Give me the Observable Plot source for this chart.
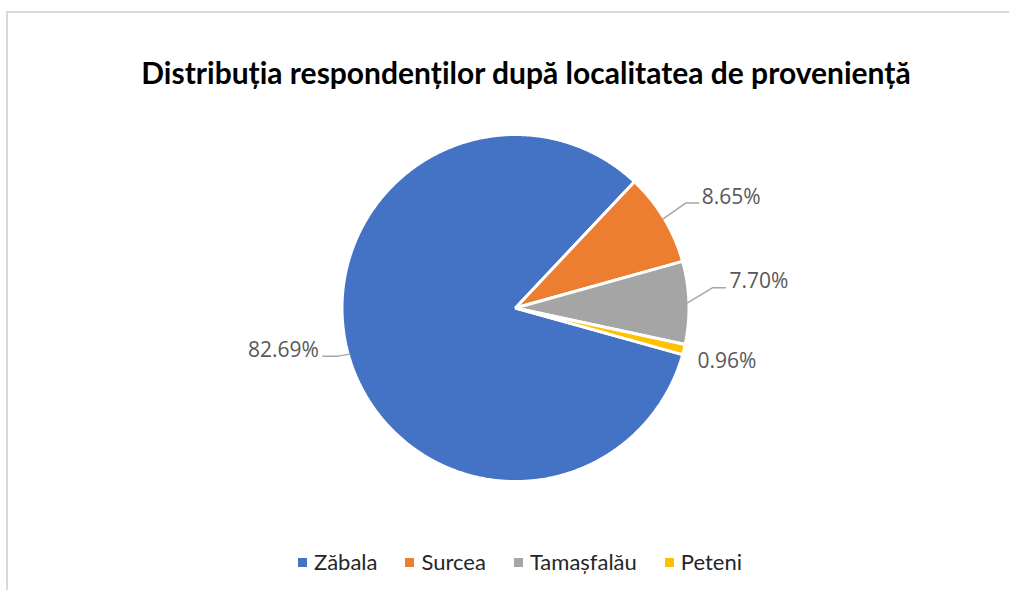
<!DOCTYPE html>
<html>
<head>
<meta charset="utf-8">
<script src="https://cdn.jsdelivr.net/npm/d3@7"></script>
<script src="https://cdn.jsdelivr.net/npm/@observablehq/plot@0.6"></script>
<style>
  html, body { margin: 0; padding: 0; background: #fff; }
  #wrap { position: relative; width: 1009px; height: 590px; overflow: hidden; background: #fff; }
  #frame { position: absolute; left: 6px; top: 11px; width: 1100px; height: 700px;
           border-left: 2px solid #d9d9d9; border-top: 2px solid #d9d9d9; box-sizing: border-box; }
  #chart { position: absolute; left: 0; top: 0; }
  #title { position: absolute; left: 0; top: 54px; width: 1052px; text-align: center;
           font-family: Lato, sans-serif; font-weight: bold; font-size: 30px; line-height: 36px; color: #000; }
  #legend { position: absolute; left: 0; top: 548px; width: 1040px; display: flex; justify-content: center;
            gap: 28px; font-family: Lato, sans-serif; font-size: 22px; line-height: 28px; color: #262626; }
  .item { display: flex; align-items: center; }
  .sw { width: 9px; height: 9px; margin-right: 7px; }
</style>
</head>
<body>
<div id="wrap">
  <div id="frame"></div>
  <div id="chart"></div>
  <div id="title"></div>
  <div id="legend"></div>
</div>
<script>
// ---- data ----
const title = "Distribuția respondenților după localitatea de proveniență";
const categories = ["Zăbala", "Surcea", "Tamașfalău", "Peteni"];
const values = [82.69, 8.65, 7.70, 0.96];
const labels = ["82.69%", "8.65%", "7.70%", "0.96%"];
const colors = ["#4472C4", "#ED7D31", "#A5A5A5", "#FFC000"];

// ---- layout ----
const W = 1009, H = 590, CX = 515, CY = 307.5, R = 173.5;
const START_DEG = 105.6;
// leader layout in pixels: elbow offset from edge, horizontal run, text gap, text vertical shift
const leaderLayout = [
  {ex: -12, ey: 2, run: -15, gap: -4, dy: -5.5, line: true},
  {ex: 23, ey: -16, run: 13, gap: 3, dy: -6, line: true},
  {ex: 25, ey: -15, run: 13, gap: 4, dy: -7, line: true},
  {ex: 15, ey: 12.5, run: 0, gap: 0, dy: 0, line: false}
];

document.getElementById("title").textContent = title;

const rows = categories.map((name, i) => ({name, value: values[i], label: labels[i], i}));
const start = START_DEG * Math.PI / 180;
const arcs = d3.pie().value(d => d.value).sort(null).startAngle(start).endAngle(start + 2 * Math.PI)(rows);

// slice polygons in unit-circle coordinates (y up)
const slicePts = [];
for (const a of arcs) {
  slicePts.push({name: a.data.name, x: 0, y: 0});
  const n = Math.max(4, Math.ceil((a.endAngle - a.startAngle) / (Math.PI / 360)));
  for (let k = 0; k <= n; k++) {
    const t = a.startAngle + (a.endAngle - a.startAngle) * k / n;
    slicePts.push({name: a.data.name, x: Math.sin(t), y: Math.cos(t)});
  }
}

// leaders and labels
const rEdge = (R - 1.5) / R;
const leaderPts = [];
const labRight = [], labLeft = [];
arcs.forEach((a, i) => {
  const L = leaderLayout[i];
  const mid = (a.startAngle + a.endAngle) / 2;
  const e = {x: rEdge * Math.sin(mid), y: rEdge * Math.cos(mid)};
  const el = {x: e.x + L.ex / R, y: e.y - L.ey / R};
  const end = {x: el.x + L.run / R, y: el.y};
  if (L.line) {
    leaderPts.push({name: a.data.name, ...e}, {name: a.data.name, ...el}, {name: a.data.name, ...end});
  }
  const lab = {text: a.data.label, x: end.x + L.gap / R, y: end.y - L.dy / R};
  (L.run < 0 ? labLeft : labRight).push(lab);
});

const chart = Plot.plot({
  width: W, height: H,
  margin: 0,
  x: {domain: [-CX / R, (W - CX) / R], axis: null},
  y: {domain: [-(H - CY) / R, CY / R], axis: null},
  color: {domain: categories, range: colors},
  style: {background: "transparent"},
  marks: [
    Plot.line(slicePts, {x: "x", y: "y", z: "name", fill: "name", stroke: "white", strokeWidth: 3, curve: "linear-closed", strokeLinejoin: "miter"}),
    Plot.line(leaderPts, {x: "x", y: "y", z: "name", stroke: "#A6A6A6", strokeWidth: 1.5}),
    Plot.text(labRight, {x: "x", y: "y", text: "text", textAnchor: "start", fontSize: 21, fontFamily: "Open Sans", fill: "#595959"}),
    Plot.text(labLeft, {x: "x", y: "y", text: "text", textAnchor: "end", fontSize: 21, fontFamily: "Open Sans", fill: "#595959"})
  ]
});
document.getElementById("chart").appendChild(chart);

// legend
const legend = document.getElementById("legend");
const cscale = chart.scale("color");
categories.forEach(c => {
  const it = document.createElement("div");
  it.className = "item";
  const sw = document.createElement("span");
  sw.className = "sw";
  sw.style.background = cscale.apply(c);
  const tx = document.createElement("span");
  tx.textContent = c;
  it.appendChild(sw); it.appendChild(tx);
  legend.appendChild(it);
});
</script>
</body>
</html>
